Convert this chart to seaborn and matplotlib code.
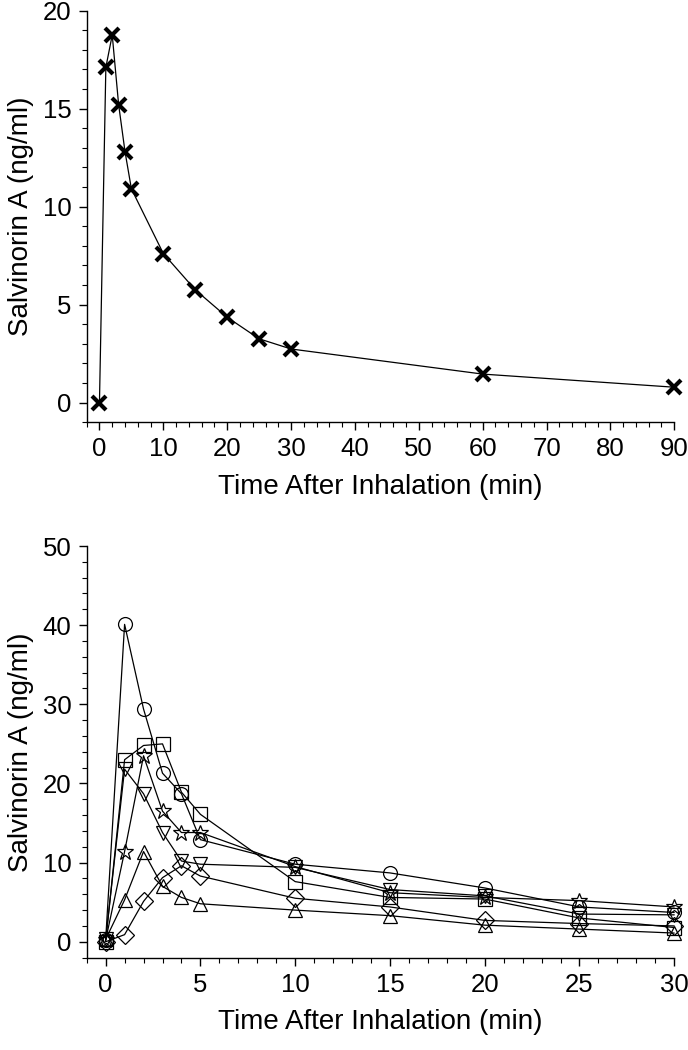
import numpy as np
import pandas as pd
import matplotlib
matplotlib.use("Agg")
import matplotlib.pyplot as plt
from matplotlib.ticker import MultipleLocator
import seaborn as sns

# mean curve (top panel)
mean_time = [0, 1, 2, 3, 4, 5, 10, 15, 20, 25, 30, 60, 90]
mean_conc = [0, 17.1, 18.75, 15.2, 12.8, 10.9, 7.6, 5.75, 4.35, 3.25, 2.73, 1.45, 0.78]

# individual subjects (bottom panel)
subj_time = [0, 1, 2, 3, 4, 5, 10, 15, 20, 25, 30]
subj_circle = [0.2, 40.1, 29.4, 21.3, 18.7, 12.9, 9.8, 8.7, 6.8, 4.4, 3.7]
subj_square = [0.0, 23.0, 24.8, 25.0, 18.9, 16.1, 7.6, 5.6, 5.4, 3.0, 1.8]
subj_tridown = [0.3, 21.8, 18.7, 13.8, 10.2, 9.8, 9.4, 6.6, 5.8, 3.5, 3.4]
subj_star = [0.2, 11.4, 23.5, 16.5, 13.8, 13.8, 9.5, 6.2, 5.6, 5.2, 4.4]
subj_triup = [0.3, 5.3, 11.4, 7.0, 5.6, 4.8, 4.0, 3.3, 2.1, 1.6, 1.1]
subj_diamond = [0.0, 0.9, 5.1, 8.1, 9.6, 8.3, 5.5, 4.4, 2.7, 2.3, 2.0]

sns.set_style("ticks")
plt.rcParams['font.family'] = ['Liberation Sans', 'DejaVu Sans']
plt.rcParams['text.color'] = 'black'
plt.rcParams['axes.labelcolor'] = 'black'
plt.rcParams['xtick.color'] = 'black'
plt.rcParams['ytick.color'] = 'black'

fig = plt.figure(figsize=(6.88, 10.5), dpi=100)
ax1 = fig.add_axes([0.126, 0.598, 0.854, 0.392])
ax2 = fig.add_axes([0.126, 0.088, 0.854, 0.392])

df_mean = pd.DataFrame({"t": mean_time, "c": mean_conc})
sns.lineplot(data=df_mean, x="t", y="c", ax=ax1, color="black", lw=0.9,
             marker="x", ms=10, mew=3, mec="black", clip_on=False)
ax1.set_xlim(-2, 90)
ax1.set_ylim(-1, 20)
ax1.xaxis.set_major_locator(MultipleLocator(10))
ax1.xaxis.set_minor_locator(MultipleLocator(2))
ax1.yaxis.set_major_locator(MultipleLocator(5))
ax1.yaxis.set_minor_locator(MultipleLocator(1))

series = [
    (subj_circle, "o", 10),
    (subj_square, "s", 9.5),
    (subj_tridown, "v", 10),
    (subj_star, "*", 12),
    (subj_triup, "^", 10),
    (subj_diamond, "D", 9),
]
for vals, mk, size in series:
    sns.lineplot(x=subj_time, y=vals, ax=ax2, color="black", lw=0.9,
                 marker=mk, ms=size, mfc="none", mec="black", mew=0.9,
                 clip_on=False)
ax2.set_xlim(-1, 30)
ax2.set_ylim(-2, 50)
ax2.xaxis.set_major_locator(MultipleLocator(5))
ax2.xaxis.set_minor_locator(MultipleLocator(1))
ax2.yaxis.set_major_locator(MultipleLocator(10))
ax2.yaxis.set_minor_locator(MultipleLocator(2))

for ax in (ax1, ax2):
    sns.despine(ax=ax)
    for s in ("left", "bottom"):
        ax.spines[s].set_linewidth(1.0)
        ax.spines[s].set_color("black")
    ax.tick_params(which="major", length=6, width=1.0, labelsize=18.5, pad=5)
    ax.tick_params(which="minor", length=3.5, width=0.8)
    ax.set_xlabel("Time After Inhalation (min)", fontsize=20, labelpad=9)
    ax.set_ylabel("Salvinorin A (ng/ml)", fontsize=20, labelpad=6)

fig.savefig("out.png", dpi=100)
